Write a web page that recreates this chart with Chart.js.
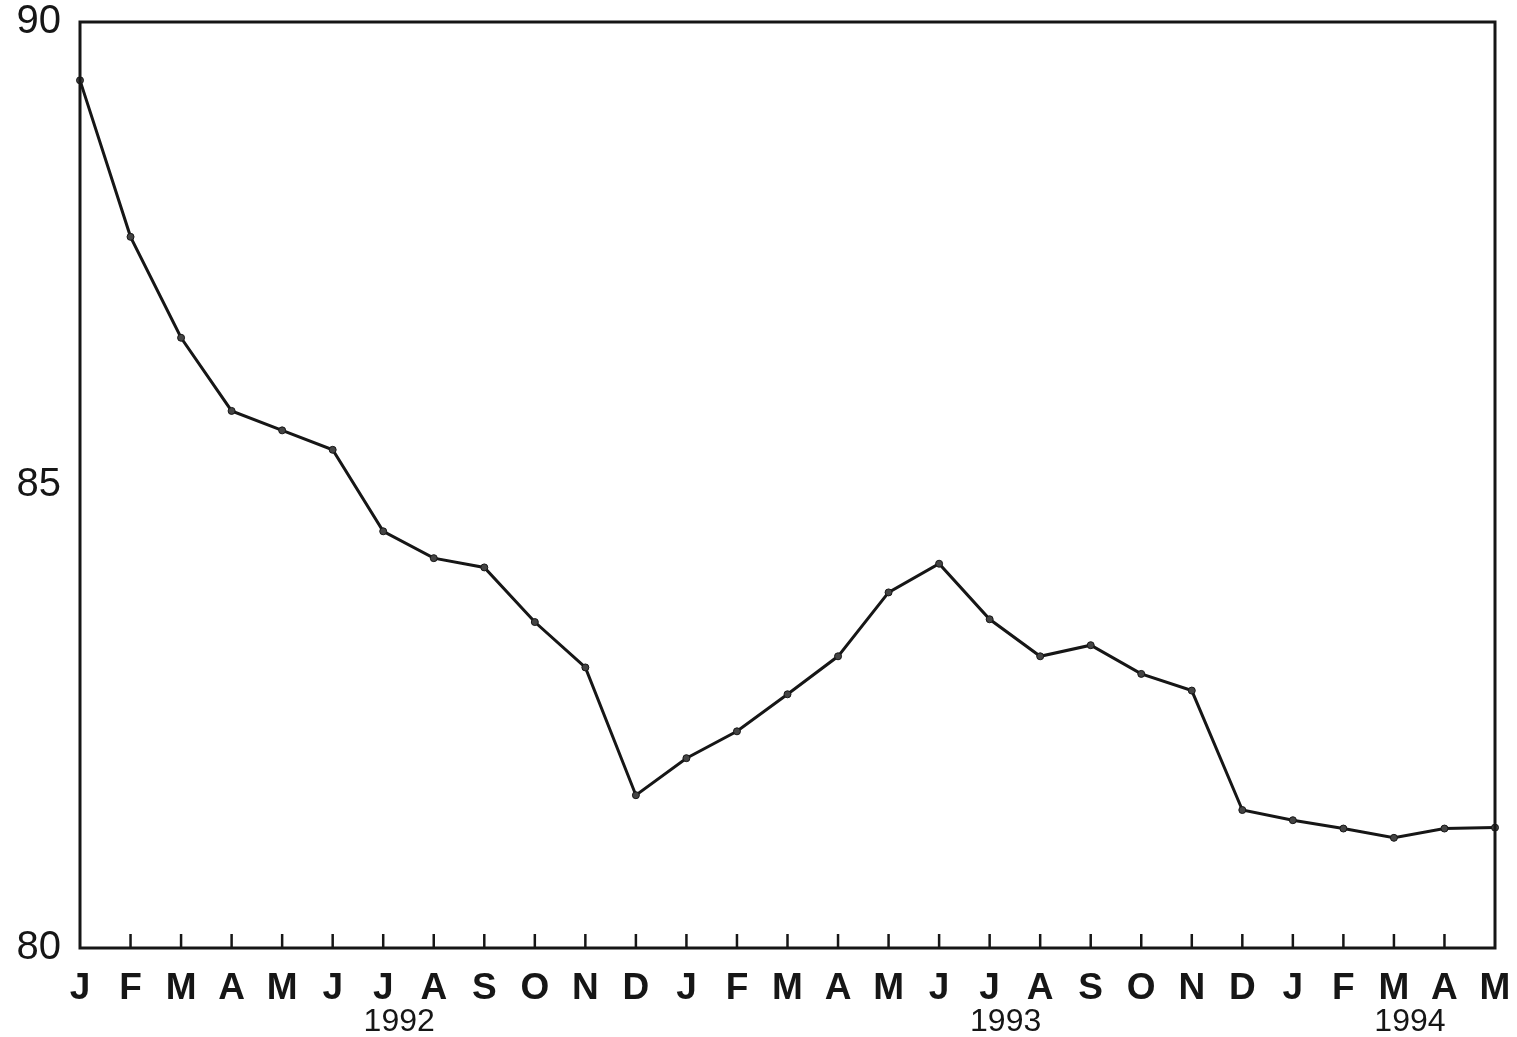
<!DOCTYPE html>
<html>
<head>
<meta charset="utf-8">
<script src="https://cdn.jsdelivr.net/npm/chart.js@4.4.0/dist/chart.umd.min.js"></script>
<style>
  html, body { margin: 0; padding: 0; background: #fff; }
  #wrap { width: 1517px; height: 1037px; }
</style>
</head>
<body>
<div id="wrap"><canvas id="chart"></canvas></div>
<script>
// Months from Jan 1992 to May 1994
var months = ['J','F','M','A','M','J','J','A','S','O','N','D',
              'J','F','M','A','M','J','J','A','S','O','N','D',
              'J','F','M','A','M'];
var years = ['','','','','','','1992','','','','','',
             '','','','','','','1993','','','','','',
             '','','1994','',''];
var values = [89.37, 87.68, 86.59, 85.80, 85.59, 85.38, 84.50, 84.21, 84.11, 83.52, 83.03, 81.65,
              82.05, 82.34, 82.74, 83.15, 83.84, 84.15, 83.55, 83.15, 83.27, 82.96, 82.78, 81.49,
              81.38, 81.29, 81.19, 81.29, 81.30];
var yTicks = [80, 85, 90];

var ink = '#161616';

// frame around plot and short inward ticks on the bottom axis
var framePlugin = {
    id: 'frame',
    afterDatasetsDraw: function(chart) {
        var ctx = chart.ctx, a = chart.chartArea, xs = chart.scales.x;
        ctx.save();
        ctx.strokeStyle = ink;
        ctx.lineWidth = 3;
        ctx.strokeRect(a.left, a.top, a.right - a.left, a.bottom - a.top);
        ctx.lineWidth = 2.5;
        for (var i = 1; i < months.length - 1; i++) {
            var px = xs.getPixelForValue(i);
            ctx.beginPath();
            ctx.moveTo(px, a.bottom);
            ctx.lineTo(px, a.bottom - 14);
            ctx.stroke();
        }
        ctx.restore();
    }
};

function noPad(s) {
    s.paddingLeft = 0; s.paddingRight = 0;
    s.paddingTop = 0; s.paddingBottom = 0;
}

var ctx = document.getElementById('chart').getContext('2d');
var chart = new Chart(ctx, {
    type: 'line',
    data: {
        labels: months,
        datasets: [{
            data: values,
            borderColor: ink,
            borderWidth: 3,
            backgroundColor: ink,
            pointRadius: 3.5,
            pointBackgroundColor: '#444',
            pointBorderColor: ink,
            pointBorderWidth: 1,
            tension: 0
        }]
    },
    plugins: [framePlugin],
    options: {
        responsive: true,
        maintainAspectRatio: false,
        animation: false,
        layout: { padding: { left: 0, right: 22, top: 22, bottom: 0 } },
        plugins: { legend: { display: false }, tooltip: { enabled: false } },
        scales: {
            y: {
                min: 80,
                max: 90,
                afterBuildTicks: function(s) {
                    s.ticks = yTicks.map(function(v) { return { value: v }; });
                },
                afterFit: function(s) { s.width = 80; noPad(s); },
                grid: { display: false, drawTicks: false },
                border: { display: false },
                ticks: {
                    color: ink,
                    padding: 19,
                    font: { family: 'Liberation Sans', size: 40 }
                }
            },
            x: {
                type: 'category',
                offset: false,
                afterFit: function(s) { s.height = 58; noPad(s); },
                grid: { display: false, drawTicks: false },
                border: { display: false },
                ticks: {
                    color: ink,
                    autoSkip: false,
                    maxRotation: 0,
                    padding: 22,
                    font: { family: 'Liberation Sans', size: 37, weight: 'bold', lineHeight: 1 }
                }
            },
            x2: {
                type: 'category',
                position: 'bottom',
                labels: years,
                offset: false,
                afterFit: function(s) { s.height = 31; noPad(s); },
                grid: { display: false, drawTicks: false },
                border: { display: false },
                ticks: {
                    color: ink,
                    autoSkip: false,
                    maxRotation: 0,
                    padding: 0,
                    labelOffset: 16,
                    font: { family: 'Liberation Sans', size: 32, lineHeight: 1 }
                }
            }
        }
    }
});
</script>
</body>
</html>
